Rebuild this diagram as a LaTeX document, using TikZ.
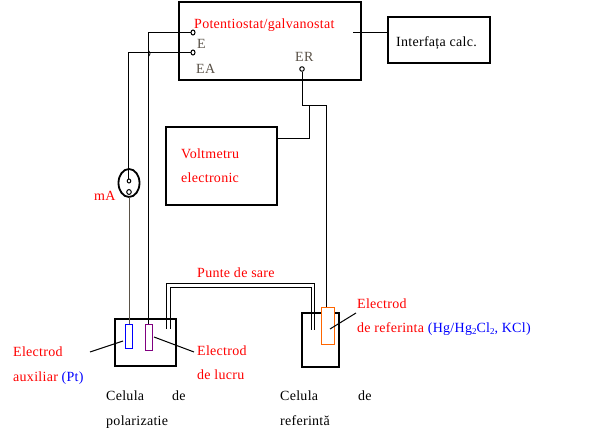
\documentclass[tikz,border=0pt]{standalone}
\usepackage{fontspec}
\usetikzlibrary{shapes.geometric}
\setmainfont[LetterSpace=2]{Liberation Serif}
\definecolor{lblgray}{HTML}{5A5248}
\definecolor{elpurple}{HTML}{800080}
\definecolor{elorange}{HTML}{FF6600}
\tikzset{
  thickbox/.style={draw=black,line width=2.2pt,minimum width=0pt,inner sep=0pt,rectangle},
  wire/.style={draw=black,line width=1pt},
  graywire/.style={draw=lblgray,line width=1pt},
  term/.style={ellipse,draw=black,line width=1pt,fill=white,inner sep=0pt,minimum width=4pt,minimum height=5pt},
  lbl/.style={anchor=base west,inner sep=0pt,font=\fontsize{14}{14}\selectfont},
  red lbl/.style={lbl,text=red},
  gray lbl/.style={lbl,text=lblgray},
  blk lbl/.style={lbl,text=black},
}
\begin{document}
\begin{tikzpicture}[x=1pt,y=-1pt]
\useasboundingbox[fill=white] (0,0) rectangle (603,441);
% boxes
\node[thickbox,minimum width=182pt,minimum height=78pt] (pot) at (270,41) {};
\node[thickbox,minimum width=102pt,minimum height=46pt] (iface) at (439,40) {};
\node[thickbox,minimum width=111pt,minimum height=78pt] (volt) at (221.5,166) {};
\node[thickbox,minimum width=61pt,minimum height=47pt] (cellp) at (145.5,342.5) {};
\node[thickbox,minimum width=37pt,minimum height=54pt] (cellr) at (320.5,340) {};
% coordinates
\coordinate (ifaceL) at (iface.west |- 0,32.5);
\coordinate (potR) at (353,32.5);
\coordinate (eN) at (148.5,32.5);
\coordinate (eaN) at (128.5,52.5);
\coordinate (mAtop) at (128.5,180);
\coordinate (mAbot) at (129.5,197);
\coordinate (erJ) at (302.5,105.5);
\coordinate (erR) at (326.5,105.5);
\coordinate (vJ) at (309.5,105.5);
\coordinate (vB) at (309.5,138.5);
\coordinate (vR) at (volt.east |- 0,138.5);
\coordinate (hk1) at (148.5,50.5);
\coordinate (hk2) at (148.5,56.5);
\coordinate (hkc) at (150.5,53.5);
% terminals
\node[term] (tE) at (193,32.5) {};
\node[term] (tEA) at (193,52.5) {};
\node[term,minimum width=4.5pt,minimum height=4.5pt] (tER) at (302,69) {};
% electrodes
\node[draw=blue,line width=1pt,minimum width=7pt,minimum height=24pt,inner sep=0pt] (elA) at (129,336.5) {};
\node[draw=elpurple,line width=1pt,minimum width=7pt,minimum height=26pt,inner sep=0pt] (elL) at (149,337.5) {};
\node[draw=elorange,fill=white,line width=1pt,minimum width=13pt,minimum height=37pt,inner sep=0pt] (elR) at (328,326) {};
% mA
\node[ellipse,draw=black,line width=1.8pt,minimum width=21pt,minimum height=28pt,inner sep=0pt] (mA) at (129,183) {};
% wires
\draw[wire] (potR) -- (ifaceL);
\draw[wire] (tE.west) -- (eN) -- (eN |- elL.north);
\draw[wire] (tEA.west) -- (eaN) -- (mAtop);
\draw[wire,line width=0.8pt] (hk1) .. controls (hkc) .. (hk2);
\draw[graywire] (mAbot) -- (mAbot |- elA.north);
\node[term,minimum width=3.5pt,minimum height=4pt] (mA1) at (129,181) {};
\node[term,minimum width=4.5pt,minimum height=5pt] (mA2) at (129,192) {};
\draw[wire] (tER.south) -- (tER.south |- erJ) -- (erR) -- (elR.north -| erR);
\draw[wire] (vJ) -- (vB) -- (vR);
% bridge
\coordinate (bo1) at (166.5,329); \coordinate (bo2) at (166.5,283.5); \coordinate (bo3) at (314.5,283.5); \coordinate (bo4) at (314.5,330);
\coordinate (bi1) at (170.5,329); \coordinate (bi2) at (170.5,287.5); \coordinate (bi3) at (311.5,287.5); \coordinate (bi4) at (311.5,330);
\draw[wire] (bo1) -- (bo2) -- (bo3) -- (bo4);
\draw[wire] (bi1) -- (bi2) -- (bi3) -- (bi4);
% leaders
\coordinate (la1) at (90,352); \coordinate (la2) at (123,341);
\coordinate (lb1) at (154,337); \coordinate (lb2) at (194,352);
\coordinate (lc1) at (330,329); \coordinate (lc2) at (356,313);
\draw[wire] (la1) -- (la2);
\draw[wire] (lb1) -- (lb2);
\draw[wire] (lc1) -- (lc2);
% labels
\node[red lbl] (t1) at (194,28.5) {Potentiostat/galvanostat};
\node[gray lbl] (t2) at (197,49) {E};
\node[gray lbl] (t3) at (196,74) {EA};
\node[gray lbl] (t4) at (295,62) {ER};
\node[blk lbl] (t5) at (396,46.5) {Interfața calc.};
\node[red lbl] (t6) at (181,158.5) {Voltmetru};
\node[red lbl] (t7) at (181,182.5) {electronic};
\node[red lbl] (t8) at (94,200.5) {mA};
\node[red lbl] (t9) at (197,277) {Punte de sare};
\node[red lbl] (t10) at (357,308) {Electrod};
\node[red lbl] (t11) at (357,332) {de referinta \textcolor{blue}{(Hg/Hg\raisebox{-2pt}{\fontsize{9}{9}\selectfont 2}Cl\raisebox{-2pt}{\fontsize{9}{9}\selectfont 2}, KCl)}};
\node[red lbl] (t12) at (13,356) {Electrod};
\node[red lbl] (t13) at (13,381) {auxiliar \textcolor{blue}{(Pt)}};
\node[red lbl] (t14) at (197,355) {Electrod};
\node[red lbl] (t15) at (197,379) {de lucru};
\node[blk lbl] (t16) at (106,400) {Celula};
\node[blk lbl] (t17) at (172,400) {de};
\node[blk lbl] (t18) at (106,425) {polarizatie};
\node[blk lbl] (t19) at (280,400) {Celula};
\node[blk lbl] (t20) at (358,400) {de};
\node[blk lbl] (t21) at (280,425) {referintă};
\end{tikzpicture}
\end{document}
